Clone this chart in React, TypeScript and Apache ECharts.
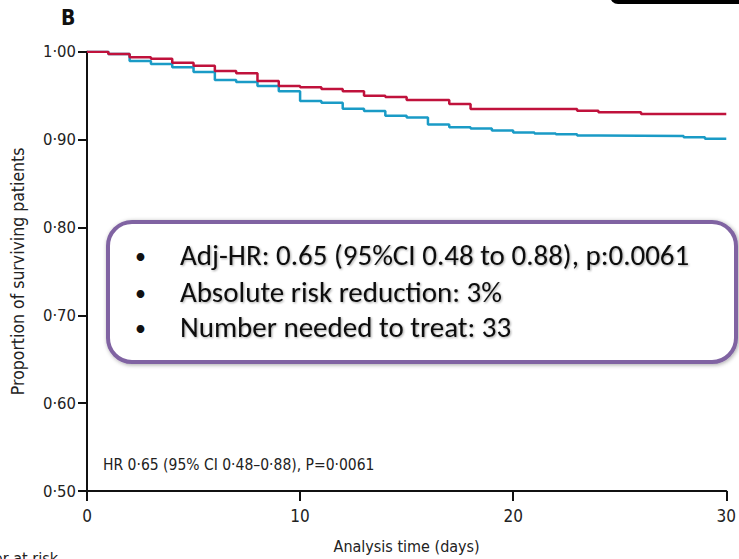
import React, { useEffect, useRef } from "react";
import * as echarts from "echarts";

const yTicks = [0.5, 0.6, 0.7, 0.8, 0.9, 1.0];
const xTicks = [0, 10, 20, 30];

const redTimes = [0, 1, 2, 3, 4, 5, 6, 7, 8, 9, 10, 11, 12, 13, 14, 15, 17, 18, 23, 24, 26, 30];
const redSurv = [1.0, 0.9974, 0.9936, 0.992, 0.9875, 0.984, 0.978, 0.9754, 0.9666, 0.961, 0.9594, 0.9575, 0.955, 0.95, 0.9485, 0.9449, 0.9404, 0.9347, 0.9327, 0.9312, 0.929, 0.929];

const blueTimes = [0, 1, 2, 3, 4, 5, 6, 7, 8, 9, 10, 11, 12, 13, 14, 15, 16, 17, 18, 19, 20, 21, 22, 23, 24, 28, 29, 30];
const blueSurv = [1.0, 0.9974, 0.9894, 0.986, 0.9822, 0.977, 0.9677, 0.9655, 0.961, 0.955, 0.9438, 0.942, 0.935, 0.9324, 0.927, 0.925, 0.9172, 0.914, 0.9126, 0.9103, 0.908, 0.907, 0.906, 0.9046, 0.904, 0.9027, 0.9008, 0.9008];

const boxLines = [
  "Adj-HR: 0.65 (95%CI 0.48 to 0.88), p:0.0061",
  "Absolute risk reduction: 3%",
  "Number needed to treat: 33",
];
const hrNote = "HR 0·65 (95% CI 0·48–0·88), P=0·0061";
const panelLabel = "B";
const yName = "Proportion of surviving patients";
const xName = "Analysis time (days)";
const riskLabel = "Number at risk";

const narrow = "'Liberation Sans Narrow', 'DejaVu Sans Condensed', 'Arial Narrow', sans-serif";
const boxFont = "Carlito, Calibri, Lato, 'Open Sans', sans-serif";

export default function App() {
  const ref = useRef<HTMLDivElement>(null);
  useEffect(() => {
    if (!ref.current) return;
    const chart = echarts.init(ref.current, undefined, { renderer: "svg" });
    const red = redTimes.map((t, i) => [t, redSurv[i]]);
    const blue = blueTimes.map((t, i) => [t, blueSurv[i]]);
    const boxTexts: any[] = [];
    const lineYs = [258, 295, 330];
    boxLines.forEach((s, i) => {
      boxTexts.push({
        type: "text",
        left: 135,
        top: lineYs[i] - 13,
        z: 20,
        style: { text: "•", font: `22px ${boxFont}`, fill: "#111" },
      });
      boxTexts.push({
        type: "text",
        left: 180,
        top: lineYs[i] - 18,
        z: 20,
        style: {
          text: s,
          font: `29px ${boxFont}`,
          fill: "#111",
          textShadowColor: "rgba(0,0,0,0.35)",
          textShadowBlur: 2,
          textShadowOffsetX: 1,
          textShadowOffsetY: 1,
        },
      });
    });
    chart.setOption({
      animation: false,
      backgroundColor: "#ffffff",
      grid: { left: 87, right: 8, top: 51.7, bottom: 66.5, containLabel: false },
      xAxis: {
        type: "value",
        min: xTicks[0],
        max: xTicks[xTicks.length - 1],
        interval: 10,
        name: xName,
        nameLocation: "middle",
        nameGap: 47,
        nameTextStyle: { fontFamily: narrow, fontSize: 16, color: "#222" },
        axisLine: { show: true, onZero: false, lineStyle: { color: "#111", width: 2 } },
        axisTick: { show: true, length: 10, lineStyle: { color: "#111", width: 2 } },
        axisLabel: { fontFamily: narrow, fontSize: 17, color: "#222", margin: 16 },
        splitLine: { show: false },
      },
      yAxis: {
        type: "value",
        min: yTicks[0],
        max: yTicks[yTicks.length - 1],
        interval: 0.1,
        name: yName,
        nameLocation: "middle",
        nameGap: 60,
        nameTextStyle: { fontFamily: narrow, fontSize: 17.5, color: "#222" },
        axisLine: { show: true, onZero: false, lineStyle: { color: "#111", width: 2 } },
        axisTick: { show: true, length: 9, lineStyle: { color: "#111", width: 2 } },
        axisLabel: {
          fontFamily: narrow,
          fontSize: 16.5,
          color: "#222",
          margin: 11,
          formatter: (v: number) => v.toFixed(2).replace(".", "·"),
        },
        splitLine: { show: false },
      },
      series: [
        {
          type: "line",
          step: "end",
          data: blue,
          showSymbol: false,
          lineStyle: { color: "#1a9bc6", width: 2.5 },
          z: 3,
        },
        {
          type: "line",
          step: "end",
          data: red,
          showSymbol: false,
          lineStyle: { color: "#c0123c", width: 2.5 },
          z: 4,
        },
      ],
      graphic: [
        {
          type: "rect",
          left: 610,
          top: -20,
          shape: { width: 160, height: 24, r: 8 },
          style: { fill: "#000" },
        },
        {
          type: "text",
          left: 61,
          top: 7,
          style: { text: panelLabel, font: `bold 21px ${narrow}`, fill: "#111" },
        },
        {
          type: "text",
          left: 103,
          top: 457,
          style: { text: hrNote, font: `15.5px ${narrow}`, fill: "#222" },
        },
        {
          type: "text",
          right: 739 - 58,
          top: 550,
          style: { text: riskLabel, font: `16px ${narrow}`, fill: "#222" },
        },
        {
          type: "rect",
          z: 10,
          shape: { x: 108, y: 222, width: 628, height: 140, r: 24 },
          style: {
            fill: "#fff",
            stroke: "#8064a2",
            lineWidth: 4,
            shadowBlur: 4,
            shadowColor: "rgba(0,0,0,0.35)",
            shadowOffsetX: 1,
            shadowOffsetY: 1,
          },
        },
        ...boxTexts,
      ],
    });
    return () => chart.dispose();
  }, []);
  return (
    <div
      ref={ref}
      style={{ position: "absolute", left: 0, top: 0, width: 739, height: 559 }}
    />
  );
}
